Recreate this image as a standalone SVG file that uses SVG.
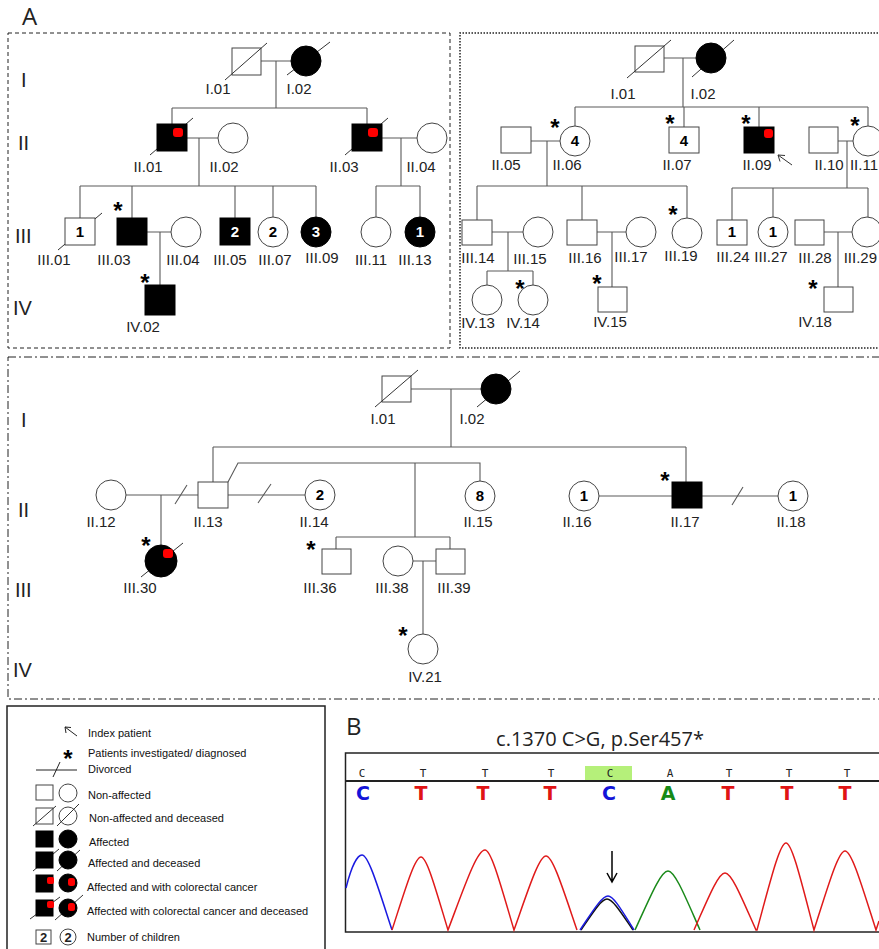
<svg xmlns="http://www.w3.org/2000/svg" width="879" height="949" viewBox="0 0 879 949">
<style>
text{font-family:"Liberation Sans",Arial,sans-serif;fill:#222}
.ln{stroke:#5a5a5a;stroke-width:1.1;fill:none}
.s{stroke:#444;stroke-width:1;fill:#fff}
.a{fill:#000;stroke:#000;stroke-width:1}
.d{stroke:#333;stroke-width:1}
.r{fill:#f00}
.l{font-size:15px;text-anchor:middle}
.n{font-size:15px;font-weight:bold;text-anchor:middle;fill:#000}
.nw{font-size:15px;font-weight:bold;text-anchor:middle;fill:#fff}
.st{font-size:24px;font-weight:bold;text-anchor:middle;fill:#000}
.g{font-size:20px}
.lg{font-size:11px;fill:#111}
.ttl{font-family:"Open Sans","Liberation Sans",sans-serif}
.bs{font-family:"DejaVu Sans Mono",monospace;font-size:11px;text-anchor:middle;fill:#222}
.bb{font-family:"DejaVu Sans",sans-serif;font-size:19px;font-weight:bold;text-anchor:middle}
.cb{fill:#1414d8}.ct{fill:#e01414}.ca{fill:#168a16}
.tr{fill:none;stroke-width:1.5}
</style>

<!-- Panel labels -->
<text class="ttl" x="22" y="25" font-size="24">A</text>
<text class="ttl" x="346" y="735" font-size="24">B</text>

<!-- Panel borders -->
<rect x="8" y="33" width="442" height="315" fill="none" stroke="#222" stroke-width="1" stroke-dasharray="4 3"/>
<path d="M890,33 H460 V348 H890" fill="none" stroke="#222" stroke-width="1.5" stroke-dasharray="1.5 1.5"/>
<rect x="8" y="357" width="900" height="342" fill="none" stroke="#222" stroke-width="1" stroke-dasharray="8 3 2 3"/>

<!-- Generation labels -->
<g id="gen-labels">
<text class="g" x="21" y="87">I</text>
<text class="g" x="18" y="150">II</text>
<text class="g" x="15" y="243">III</text>
<text class="g" x="13" y="315">IV</text>
<text class="g" x="21" y="427">I</text>
<text class="g" x="18" y="517">II</text>
<text class="g" x="15" y="597">III</text>
<text class="g" x="13" y="677">IV</text>
</g>

<!-- ===== Top-left pedigree ===== -->
<g id="tl-connectors" class="ln">
<path d="M261,61 H291 M276,61 V108 M172,108 H367 M172,108 V124 M367,108 V124"/>
<path d="M187,138 H218 M199,138 V186 M80,186 H316 M80,186 V218 M132,186 V218 M235,186 V218 M273,186 V217 M316,186 V217"/>
<path d="M147,232 H171 M160,232 V285"/>
<path d="M382,138 H417 M401,138 V186 M376,186 H420 M376,186 V217 M420,186 V217"/>
</g>
<g id="tl-I01"><rect class="s" x="232" y="48" width="29" height="27"/><line class="d" x1="225" y1="80" x2="267" y2="43"/><text class="l" x="218" y="94">I.01</text></g>
<g id="tl-I02"><line class="d" x1="287" y1="75" x2="330" y2="42"/><circle class="a" cx="306" cy="61" r="15"/><text class="l" x="299" y="94">I.02</text></g>
<g id="tl-II01"><line class="d" x1="150" y1="155" x2="193" y2="118"/><rect class="a" x="157" y="124" width="30" height="27"/><rect class="r" x="173" y="128" width="10" height="9" rx="3"/><text class="l" x="148" y="172">II.01</text></g>
<g id="tl-II02"><circle class="s" cx="233" cy="138" r="15"/><text class="l" x="224" y="172">II.02</text></g>
<g id="tl-II03"><line class="d" x1="345" y1="155" x2="388" y2="118"/><rect class="a" x="352" y="124" width="30" height="27"/><rect class="r" x="368" y="128" width="10" height="9" rx="3"/><text class="l" x="344" y="172">II.03</text></g>
<g id="tl-II04"><circle class="s" cx="432" cy="138" r="15"/><text class="l" x="421" y="172">II.04</text></g>
<g id="tl-III01"><line class="d" x1="58" y1="250" x2="102" y2="213"/><rect class="s" x="65" y="218" width="30" height="27"/><text class="n" x="80" y="237">1</text><text class="l" x="54" y="265">III.01</text></g>
<g id="tl-III03"><text class="st" x="118" y="219">*</text><rect class="a" x="117" y="218" width="30" height="27"/><text class="l" x="114" y="265">III.03</text></g>
<g id="tl-III04"><circle class="s" cx="186" cy="232" r="15"/><text class="l" x="183" y="265">III.04</text></g>
<g id="tl-III05"><rect class="a" x="220" y="218" width="30" height="27"/><text class="nw" x="235" y="237">2</text><text class="l" x="230" y="265">III.05</text></g>
<g id="tl-III07"><circle class="s" cx="273" cy="232" r="15"/><text class="n" x="273" y="237">2</text><text class="l" x="275" y="265">III.07</text></g>
<g id="tl-III09"><circle class="a" cx="316" cy="232" r="15"/><text class="nw" x="316" y="237">3</text><text class="l" x="322" y="263">III.09</text></g>
<g id="tl-III11"><circle class="s" cx="376" cy="232" r="15"/><text class="l" x="371" y="265">III.11</text></g>
<g id="tl-III13"><circle class="a" cx="420" cy="232" r="15"/><text class="nw" x="420" y="237">1</text><text class="l" x="415" y="265">III.13</text></g>
<g id="tl-IV02"><text class="st" x="145" y="291">*</text><rect class="a" x="145" y="285" width="30" height="30"/><text class="l" x="143" y="332">IV.02</text></g>

<!-- ===== Top-right pedigree ===== -->
<g id="tr-connectors" class="ln">
<path d="M664,58 H696 M683,58 V107 M575,107 H868 M575,107 V126 M684,107 V127 M759,107 V127 M868,107 V126"/>
<path d="M531,141 H560 M547,141 V186 M477,186 H687 M477,186 V220 M582,186 V220 M687,186 V218"/>
<path d="M492,232 H523 M508,232 V271 M487,271 H533 M487,271 V285 M533,271 V285"/>
<path d="M597,232 H626 M612,232 V287"/>
<path d="M838,141 H853 M847,141 V188 M732,188 H868 M732,188 V220 M773,188 V217 M868,188 V217"/>
<path d="M824,232 H852 M838,232 V287"/>
</g>
<g id="tr-I01"><rect class="s" x="635" y="46" width="29" height="26"/><line class="d" x1="627" y1="78" x2="671" y2="40"/><text class="l" x="623" y="99">I.01</text></g>
<g id="tr-I02"><line class="d" x1="692" y1="77" x2="734" y2="40"/><circle class="a" cx="711" cy="58" r="15"/><text class="l" x="703" y="99">I.02</text></g>
<g id="tr-II05"><rect class="s" x="501" y="127" width="30" height="26"/><text class="l" x="506" y="170">II.05</text></g>
<g id="tr-II06"><text class="st" x="555" y="136">*</text><circle class="s" cx="575" cy="141" r="15"/><text class="n" x="575" y="146">4</text><text class="l" x="567" y="170">II.06</text></g>
<g id="tr-II07"><text class="st" x="670" y="132">*</text><rect class="s" x="669" y="127" width="30" height="26"/><text class="n" x="684" y="146">4</text><text class="l" x="677" y="170">II.07</text></g>
<g id="tr-II09"><text class="st" x="746" y="132">*</text><rect class="a" x="744" y="127" width="30" height="26"/><rect class="r" x="764" y="129" width="9" height="9" rx="3"/><text class="l" x="757" y="170">II.09</text><path d="M792,165 L778,155 M778,155 L785,155.5 M778,155 L780,161.5" stroke="#333" stroke-width="1" fill="none"/></g>
<g id="tr-II10"><rect class="s" x="809" y="127" width="29" height="26"/><text class="l" x="829" y="170">II.10</text></g>
<g id="tr-II11"><text class="st" x="855" y="134">*</text><circle class="s" cx="868" cy="141" r="15"/><text class="l" x="864" y="170">II.11</text></g>
<g id="tr-III14"><rect class="s" x="462" y="220" width="30" height="25"/><text class="l" x="478" y="263">III.14</text></g>
<g id="tr-III15"><circle class="s" cx="538" cy="232" r="15"/><text class="l" x="530" y="264">III.15</text></g>
<g id="tr-IV13"><circle class="s" cx="487" cy="300" r="15"/><text class="l" x="478" y="328">IV.13</text></g>
<g id="tr-IV14"><text class="st" x="520" y="297">*</text><circle class="s" cx="533" cy="300" r="15"/><text class="l" x="523" y="328">IV.14</text></g>
<g id="tr-III16"><rect class="s" x="567" y="220" width="30" height="25"/><text class="l" x="585" y="263">III.16</text></g>
<g id="tr-III17"><circle class="s" cx="641" cy="232" r="15"/><text class="l" x="631" y="262">III.17</text></g>
<g id="tr-IV15"><text class="st" x="597" y="292">*</text><rect class="s" x="598" y="287" width="29" height="25"/><text class="l" x="610" y="327">IV.15</text></g>
<g id="tr-III19"><text class="st" x="673" y="223">*</text><circle class="s" cx="687" cy="233" r="15"/><text class="l" x="681" y="261">III.19</text></g>
<g id="tr-III24"><rect class="s" x="717" y="220" width="30" height="25"/><text class="n" x="732" y="237">1</text><text class="l" x="733" y="262">III.24</text></g>
<g id="tr-III27"><circle class="s" cx="773" cy="232" r="15"/><text class="n" x="773" y="237">1</text><text class="l" x="771" y="262">III.27</text></g>
<g id="tr-III28"><rect class="s" x="795" y="220" width="29" height="25"/><text class="l" x="815" y="263">III.28</text></g>
<g id="tr-III29"><circle class="s" cx="867" cy="232" r="15"/><text class="l" x="877" y="263" style="text-anchor:end">III.29</text></g>
<g id="tr-IV18"><text class="st" x="813" y="297">*</text><rect class="s" x="824" y="287" width="29" height="25"/><text class="l" x="815" y="327">IV.18</text></g>

<!-- ===== Bottom pedigree ===== -->
<g id="b-connectors" class="ln">
<path d="M411,389 H481 M451,389 V447 M213,447 H686 M213,447 V482 M686,447 V482"/>
<path d="M228,482 L238,463 H480 V481 M415,463 V537 M336,537 H450 M336,537 V549 M450,537 V549"/>
<path d="M126,495 H198 M161,495 V545 M228,495 H305 M599,496 H672 M702,496 H778"/>
<path d="M413,561 H436 M423,561 V634"/>
<path d="M175,504 L187,485 M258,503 L271,484 M732,505 L743,487"/>
</g>
<g id="b-I01"><rect class="s" x="382" y="376" width="29" height="26"/><line class="d" x1="375" y1="407" x2="418" y2="370"/><text class="l" x="383" y="424">I.01</text></g>
<g id="b-I02"><line class="d" x1="477" y1="407" x2="520" y2="371"/><circle class="a" cx="496" cy="389" r="15"/><text class="l" x="472" y="424">I.02</text></g>
<g id="b-II12"><circle class="s" cx="111" cy="495" r="15"/><text class="l" x="101" y="527">II.12</text></g>
<g id="b-II13"><rect class="s" x="198" y="482" width="30" height="26"/><text class="l" x="208" y="527">II.13</text></g>
<g id="b-II14"><circle class="s" cx="320" cy="495" r="15"/><text class="n" x="320" y="500">2</text><text class="l" x="314" y="527">II.14</text></g>
<g id="b-II15"><circle class="s" cx="480" cy="496" r="15"/><text class="n" x="480" y="501">8</text><text class="l" x="478" y="527">II.15</text></g>
<g id="b-II16"><circle class="s" cx="584" cy="496" r="15"/><text class="n" x="584" y="501">1</text><text class="l" x="577" y="527">II.16</text></g>
<g id="b-II17"><text class="st" x="665" y="489">*</text><rect class="a" x="672" y="482" width="30" height="26"/><text class="l" x="685" y="527">II.17</text></g>
<g id="b-II18"><circle class="s" cx="793" cy="496" r="15"/><text class="n" x="793" y="501">1</text><text class="l" x="791" y="527">II.18</text></g>
<g id="b-III30"><text class="st" x="146" y="554">*</text><line class="d" x1="141" y1="577" x2="183" y2="543"/><circle class="a" cx="161" cy="561" r="16"/><rect class="r" x="163" y="549" width="10" height="9" rx="3"/><text class="l" x="140" y="593">III.30</text></g>
<g id="b-III36"><text class="st" x="311" y="558">*</text><rect class="s" x="322" y="549" width="29" height="25"/><text class="l" x="320" y="593">III.36</text></g>
<g id="b-III38"><circle class="s" cx="398" cy="561" r="15"/><text class="l" x="392" y="593">III.38</text></g>
<g id="b-III39"><rect class="s" x="436" y="549" width="29" height="25"/><text class="l" x="454" y="593">III.39</text></g>
<g id="b-IV21"><text class="st" x="403" y="644">*</text><circle class="s" cx="423" cy="649" r="15"/><text class="l" x="425" y="682">IV.21</text></g>

<!-- ===== Legend ===== -->
<g id="legend">
<rect x="7" y="706" width="318" height="260" fill="#fff" stroke="#222" stroke-width="1.5"/>
<path d="M77,736 L65,727 M65,727 L71,727.5 M65,727 L66,733" stroke="#222" stroke-width="1" fill="none"/>
<text class="lg" x="88" y="737">Index patient</text>
<text class="st" x="68" y="767">*</text>
<text class="lg" x="88" y="757">Patients investigated/ diagnosed</text>
<path d="M36,770 H77 M53,777 L60,762" stroke="#222" stroke-width="1" fill="none"/>
<text class="lg" x="88" y="773">Divorced</text>
<rect class="s" x="36" y="785" width="17" height="15"/><circle class="s" cx="68" cy="793" r="9"/>
<text class="lg" x="88" y="799">Non-affected</text>
<rect class="s" x="36" y="808" width="17" height="16"/><circle class="s" cx="68" cy="816" r="9"/>
<path d="M33,826 L56,806 M57,826 L79,804" stroke="#333" stroke-width="1"/>
<text class="lg" x="89" y="822">Non-affected and deceased</text>
<rect class="a" x="36" y="831" width="17" height="16"/><circle class="a" cx="68" cy="839" r="9"/>
<text class="lg" x="89" y="846">Affected</text>
<path d="M33,871 L59,849 M57,871 L80,850" stroke="#333" stroke-width="1"/>
<rect class="a" x="36" y="852" width="17" height="16"/><circle class="a" cx="68" cy="860" r="9"/>
<text class="lg" x="88" y="867">Affected and deceased</text>
<rect class="a" x="36" y="875" width="17" height="17"/><circle class="a" cx="68" cy="883" r="9"/>
<rect class="r" x="47" y="877" width="7" height="7" rx="2"/><rect class="r" x="68" y="878" width="7" height="8" rx="2.5"/>
<text class="lg" x="87" y="891">Affected and with colorectal cancer</text>
<path d="M30,919 L60,897 M55,920 L83,895" stroke="#333" stroke-width="1"/>
<rect class="a" x="36" y="900" width="17" height="16"/><circle class="a" cx="68" cy="908" r="9"/>
<rect class="r" x="47" y="901" width="7" height="7" rx="2"/><rect class="r" x="68" y="903" width="7" height="8" rx="2.5"/>
<text class="lg" x="87" y="915">Affected with colorectal cancer and deceased</text>
<rect class="s" x="36" y="930" width="15" height="14"/><text x="43.5" y="942" font-size="13" font-weight="bold" text-anchor="middle">2</text>
<circle class="s" cx="68" cy="937" r="8"/><text x="68" y="942" font-size="13" font-weight="bold" text-anchor="middle">2</text>
<text class="lg" x="87" y="941">Number of children</text>
</g>

<!-- ===== Chromatogram ===== -->
<g id="chromatogram">
<text class="ttl" x="600" y="746" font-size="20" text-anchor="middle">c.1370 C&gt;G, p.Ser457*</text>
<rect x="345.5" y="753" width="600" height="179" fill="#fff" stroke="#222" stroke-width="1.5"/>
<rect x="585" y="766" width="47" height="14" fill="#b5f07a"/>
<line x1="345" y1="781" x2="879" y2="781" stroke="#222" stroke-width="2"/>
<g>
<text class="bs" x="362" y="777">C</text><text class="bs" x="423" y="777">T</text><text class="bs" x="485" y="777">T</text><text class="bs" x="551" y="777">T</text><text class="bs" x="610" y="777">C</text><text class="bs" x="670" y="777">A</text><text class="bs" x="729" y="777">T</text><text class="bs" x="789" y="777">T</text><text class="bs" x="847" y="777">T</text>
</g>
<g>
<text class="bb cb" x="363" y="800">C</text><text class="bb ct" x="421" y="800">T</text><text class="bb ct" x="483" y="800">T</text><text class="bb ct" x="550" y="800">T</text><text class="bb cb" x="609" y="800">C</text><text class="bb ca" x="668" y="800">A</text><text class="bb ct" x="728" y="800">T</text><text class="bb ct" x="787" y="800">T</text><text class="bb ct" x="845" y="800">T</text>
</g>
<path class="tr" stroke="#1a1ae0" d="M346,888 C352,864 358,855 362,855 C368.6,855 378.5,888.75 392,930"/>
<path class="tr" stroke="#e01a1a" d="M392,930 C405.05,889.85 414.62,857 421,857 C426.94,857 435.85,889.85 448,930 C464.65,886 476.86,850 485,850 C491.38,850 500.95,886 514,930 C528.4,889.3 538.96,856 546,856 C552.82,856 563.05,889.3 577,930"/>
<path class="tr" stroke="#111" d="M581,930 C592.7,912.95 601.28,899 607,899 C612.72,899 621.3,912.95 633,930"/>
<path class="tr" stroke="#1a1ae0" d="M580,930 C592.6,911.3 601.84,896 608,896 C613.72,896 622.3,911.3 634,930"/>
<path class="tr" stroke="#1a8a1a" d="M635,930 C649.85,897.55 660.74,871 668,871 C675.04,871 685.6,897.55 700,930"/>
<path class="tr" stroke="#e01a1a" d="M694,930 C707.95,898.65 718.18,873 725,873 C731.82,873 742.05,898.65 756,930 L757,930 C770.05,882.15 779.62,843 786,843 C792.16,843 801.4,882.15 814,930 C827.95,886.55 838.18,851 845,851 C851.82,851 862.05,886.55 876,930 L879,921"/>
<path d="M612,851 V881 M607,873 L612,882 L617,873" stroke="#000" stroke-width="1.5" fill="none"/>
</g>
</svg>
